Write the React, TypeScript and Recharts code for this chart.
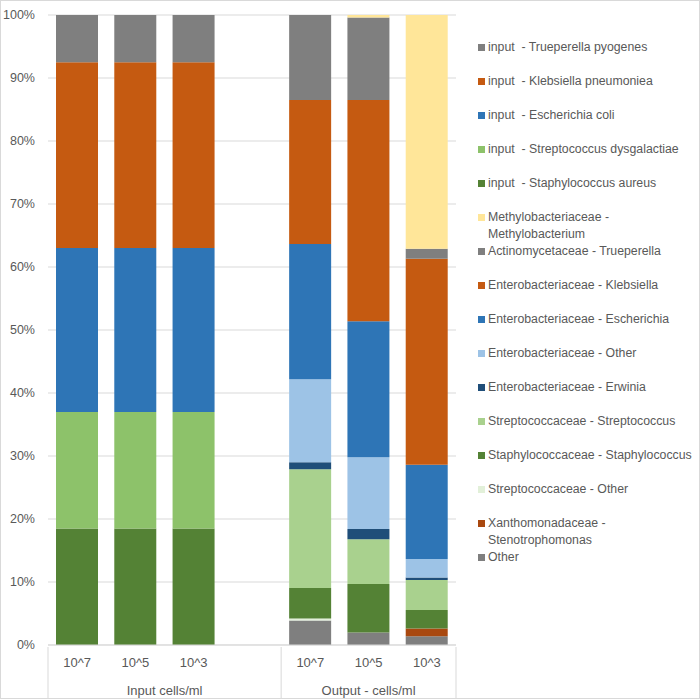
import React from "react";
import { BarChart, Bar, XAxis, YAxis, CartesianGrid } from "recharts";

// ---------- data ----------
const categories = ["10^7", "10^5", "10^3", "", "10^7", "10^5", "10^3"];
const groupLabels = ["Input cells/ml", "Output - cells/ml"];
const yTicks = [0, 10, 20, 30, 40, 50, 60, 70, 80, 90, 100];

// output series (stack order bottom -> top)
const otherVals = [0, 0, 0, 0, 3.9, 2.0, 1.4];
const xanthoVals = [0, 0, 0, 0, 0, 0, 1.2];
const strepOtherVals = [0, 0, 0, 0, 0.3, 0, 0];
const staphVals = [0, 0, 0, 0, 4.85, 7.7, 2.95];
const strepVals = [0, 0, 0, 0, 18.85, 7.1, 4.75];
const erwiniaVals = [0, 0, 0, 0, 1.1, 1.6, 0.4];
const enteroOtherVals = [0, 0, 0, 0, 13.2, 11.4, 2.95];
const escherichiaVals = [0, 0, 0, 0, 21.45, 21.6, 14.95];
const klebsiellaVals = [0, 0, 0, 0, 22.85, 35.1, 32.7];
const truepVals = [0, 0, 0, 0, 13.5, 13.1, 1.6];
const methyloVals = [0, 0, 0, 0, 0, 0.4, 37.1];
// input series
const inStaphVals = [18.5, 18.5, 18.5, 0, 0, 0, 0];
const inStrepVals = [18.5, 18.5, 18.5, 0, 0, 0, 0];
const inEcoliVals = [26, 26, 26, 0, 0, 0, 0];
const inKlebVals = [29.5, 29.5, 29.5, 0, 0, 0, 0];
const inTruepVals = [7.5, 7.5, 7.5, 0, 0, 0, 0];

const series = [
  { key: "other", name: "Other", color: "#7F7F7F", values: otherVals },
  { key: "xantho", name: "Xanthomonadaceae - Stenotrophomonas", color: "#A9480F", values: xanthoVals },
  { key: "strepOther", name: "Streptococcaceae - Other", color: "#E2F0D9", values: strepOtherVals },
  { key: "staph", name: "Staphylococcaceae - Staphylococcus", color: "#548235", values: staphVals },
  { key: "strep", name: "Streptococcaceae - Streptococcus", color: "#A9D18E", values: strepVals },
  { key: "erwinia", name: "Enterobacteriaceae - Erwinia", color: "#1F4E79", values: erwiniaVals },
  { key: "enteroOther", name: "Enterobacteriaceae - Other", color: "#9DC3E6", values: enteroOtherVals },
  { key: "escherichia", name: "Enterobacteriaceae - Escherichia", color: "#2E75B6", values: escherichiaVals },
  { key: "klebsiella", name: "Enterobacteriaceae - Klebsiella", color: "#C55A11", values: klebsiellaVals },
  { key: "truep", name: "Actinomycetaceae - Trueperella", color: "#7F7F7F", values: truepVals },
  { key: "methylo", name: "Methylobacteriaceae - Methylobacterium", color: "#FFE699", values: methyloVals },
  { key: "inStaph", name: "input  - Staphylococcus aureus", color: "#548235", values: inStaphVals },
  { key: "inStrep", name: "input  - Streptococcus dysgalactiae", color: "#8DC26A", values: inStrepVals },
  { key: "inEcoli", name: "input  - Escherichia coli", color: "#2E75B6", values: inEcoliVals },
  { key: "inKleb", name: "input  - Klebsiella pneumoniea", color: "#C55A11", values: inKlebVals },
  { key: "inTruep", name: "input  - Trueperella pyogenes", color: "#7F7F7F", values: inTruepVals },
];

const data = categories.map((c, i) => {
  const row: any = { idx: i, cat: c };
  series.forEach((s) => {
    row[s.key] = s.values[i];
  });
  return row;
});

// ---------- layout ----------
const W = 700;
const H = 699;
const M_TOP = 15;
const M_RIGHT = 244;
const Y_W = 48;
const X_H = 54;
const PLOT_W = W - Y_W - M_RIGHT;
const BAND = PLOT_W / categories.length;
const FONT = "'Liberation Sans', Arial, sans-serif";
const TXT = "#595959";
const LINE = "#D9D9D9";

const CatTick = (props: any) => {
  const { x, y, index } = props;
  const i = index as number;
  const els: any[] = [];
  els.push(
    <text key="t" x={x} y={y + 20} textAnchor="middle" fontSize={13} fill={TXT} fontFamily={FONT}>
      {categories[i]}
    </text>
  );
  if (i === 0 || i === 4) {
    els.push(<line key="l" x1={x - BAND / 2} x2={x - BAND / 2} y1={y} y2={H} stroke={LINE} />);
  }
  if (i === categories.length - 1) {
    els.push(<line key="r" x1={x + BAND / 2} x2={x + BAND / 2} y1={y} y2={H} stroke={LINE} />);
  }
  if (i === 0) {
    els.push(
      <text key="g" x={x + 1.5 * BAND} y={y + 48} textAnchor="middle" fontSize={13} fill={TXT} fontFamily={FONT}>
        {groupLabels[0]}
      </text>
    );
  }
  if (i === 4) {
    els.push(
      <text key="g" x={x + BAND} y={y + 48} textAnchor="middle" fontSize={13} fill={TXT} fontFamily={FONT}>
        {groupLabels[1]}
      </text>
    );
  }
  return <g>{els}</g>;
};

const legendItems = [...series].reverse();

export default function App() {
  return (
    <div style={{ position: "absolute", left: 0, top: 0, width: W, height: H, background: "#fff", fontFamily: FONT }}>
      <BarChart
        width={W}
        height={H}
        data={data}
        margin={{ top: M_TOP, right: M_RIGHT, bottom: 0, left: 0 }}
        barSize={42}
      >
        <CartesianGrid vertical={false} stroke={LINE} />
        <XAxis
          dataKey="idx"
          height={X_H}
          interval={0}
          tickLine={false}
          tickSize={0}
          axisLine={{ stroke: LINE }}
          tick={<CatTick />}
        />
        <YAxis
          width={Y_W}
          domain={[0, 100]}
          ticks={yTicks}
          tickFormatter={(v: number) => `${v}%`}
          axisLine={false}
          tickLine={false}
          tickSize={0}
          tickMargin={13}
          tick={{ fontSize: 12.5, fill: TXT, fontFamily: FONT }}
        />
        {series.map((s) => (
          <Bar key={s.key} dataKey={s.key} name={s.name} stackId="a" fill={s.color} isAnimationActive={false} />
        ))}
      </BarChart>
      <div style={{ position: "absolute", left: 478, top: 0, width: 219 }}>
        {legendItems.map((s, i) => (
          <div
            key={s.key}
            style={{
              position: "absolute",
              left: 0,
              top: 47 + i * 34 - 8.5,
              width: 219,
              display: "flex",
              alignItems: "flex-start",
            }}
          >
            <div style={{ width: 7, height: 7, background: s.color, marginTop: 5, marginRight: 3, flex: "none" }} />
            <div style={{ fontSize: 12.3, lineHeight: "17px", color: TXT, width: 209, whiteSpace: "pre-wrap" }}>{s.name}</div>
          </div>
        ))}
      </div>
      <div
        style={{
          position: "absolute",
          left: 0,
          top: 0,
          width: W,
          height: H,
          boxSizing: "border-box",
          border: `1px solid ${LINE}`,
          pointerEvents: "none",
        }}
      />
    </div>
  );
}
